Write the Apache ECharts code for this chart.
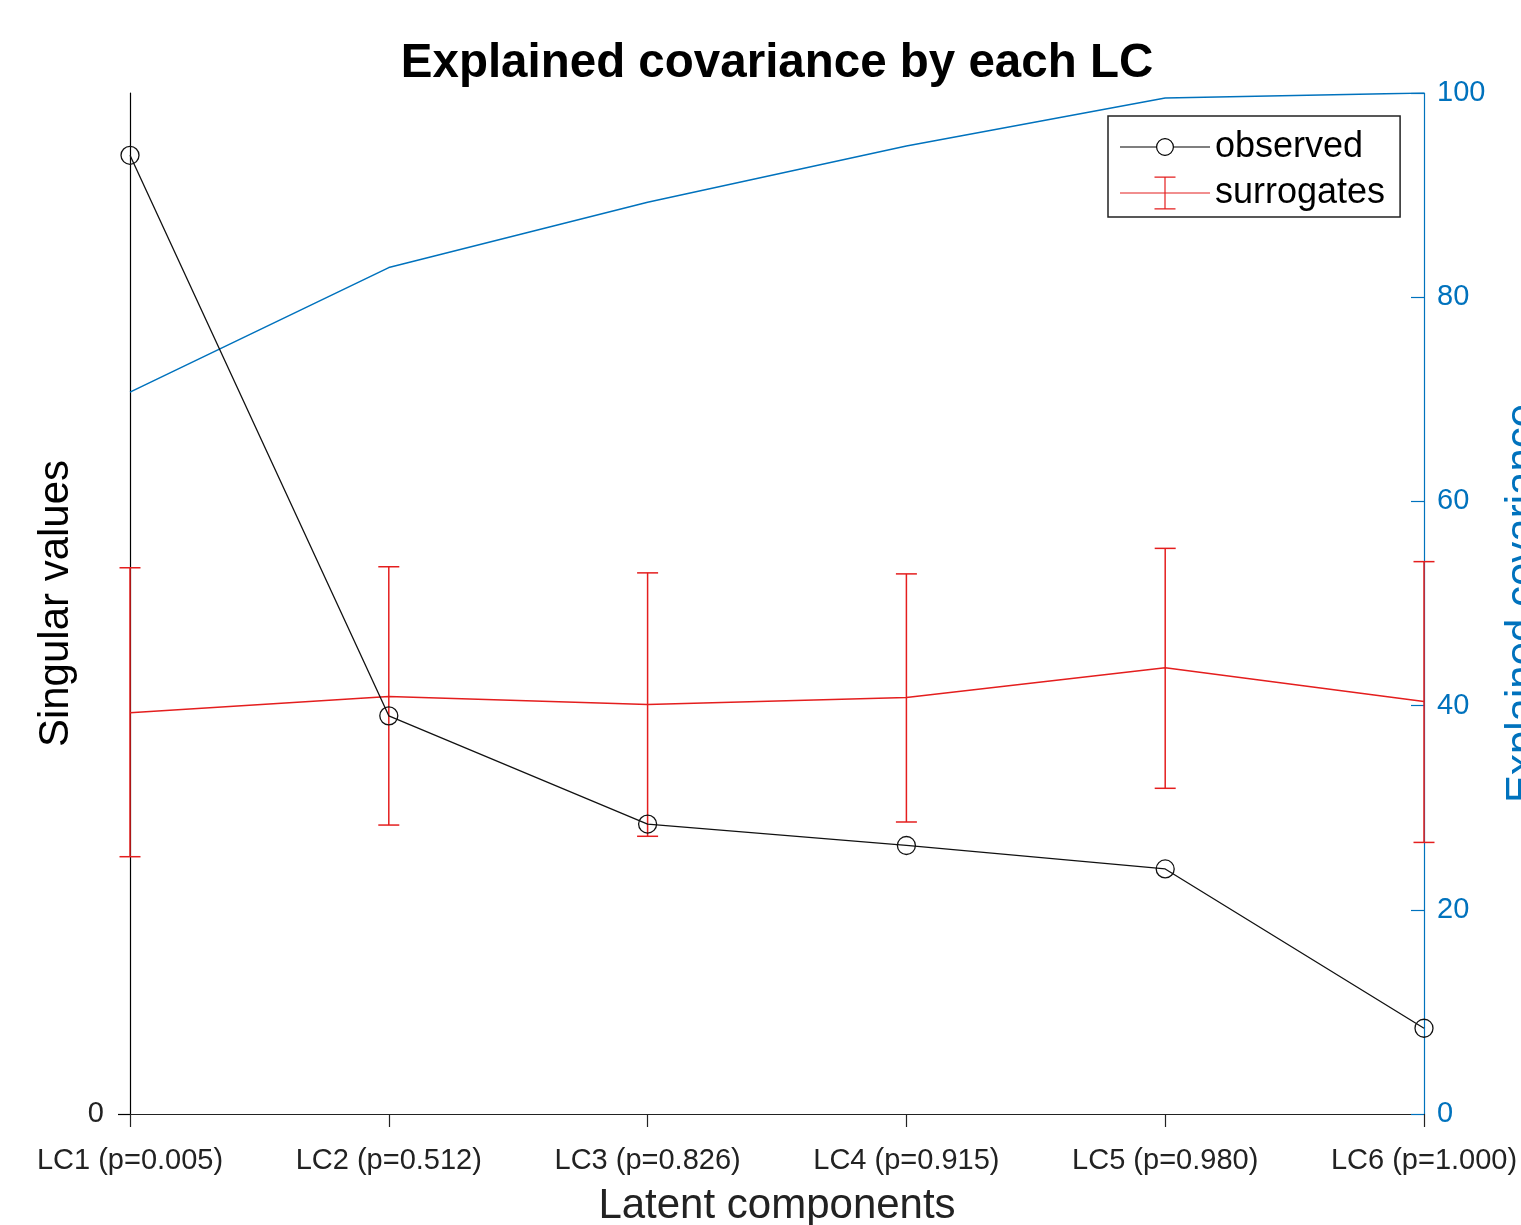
<!DOCTYPE html>
<html>
<head>
<meta charset="utf-8">
<script src="https://cdn.jsdelivr.net/npm/echarts@6/dist/echarts.min.js"></script>
<style>
html,body{margin:0;padding:0;background:#fff;overflow:hidden;}
#chart{width:1521px;height:1225px;}
</style>
</head>
<body>
<div id="chart"></div>
<script>
// ---- data ----
const categories = ['LC1 (p=0.005)', 'LC2 (p=0.512)', 'LC3 (p=0.826)', 'LC4 (p=0.915)', 'LC5 (p=0.980)', 'LC6 (p=1.000)'];
const observed = [93.9, 39.0, 28.4, 26.3, 24.0, 8.4];
const surrogateMean = [39.3, 40.9, 40.1, 40.8, 43.7, 40.4];
const surrogateLow = [25.2, 28.3, 27.2, 28.6, 31.9, 26.6];
const surrogateHigh = [53.5, 53.6, 53.0, 52.9, 55.4, 54.1];
const explainedCum = [70.7, 82.9, 89.3, 94.8, 99.5, 100];
const rightTicks = [0, 20, 40, 60, 80, 100];
const leftTicks = [0];

const FONT = '"Liberation Sans", Arial, Helvetica, sans-serif';
const BLUE = '#0072BD';
const RED = '#e41e1e';
const BLACK = '#000000';

const errData = categories.map((c, i) => [i, surrogateLow[i], surrogateHigh[i]]);

const iconObserved = 'path://M0,0 L0.1,0 L0,0.1 Z M90,33 L89.9,33 L90,32.9 Z ' +
  'M0,15.9 L36.5,15.9 L36.5,17.1 L0,17.1 Z M53.5,15.9 L90,15.9 L90,17.1 L53.5,17.1 Z ' +
  'M54,16.5 A9,9 0 1,1 36,16.5 A9,9 0 1,1 54,16.5 Z ' +
  'M52.8,16.5 A7.8,7.8 0 1,0 37.2,16.5 A7.8,7.8 0 1,0 52.8,16.5 Z';
const iconSurrogates = 'path://M0,15.9 L90,15.9 L90,17.1 L0,17.1 Z ' +
  'M44.4,0 L45.6,0 L45.6,33 L44.4,33 Z ' +
  'M34.5,0 L55.5,0 L55.5,1.2 L34.5,1.2 Z ' +
  'M34.5,31.8 L55.5,31.8 L55.5,33 L34.5,33 Z';

const chart = echarts.init(document.getElementById('chart'), null, {renderer: 'canvas'});

const option = {
  animation: false,
  backgroundColor: '#ffffff',
  textStyle: {fontFamily: FONT},
  title: {
    text: 'Explained covariance by each LC',
    left: 777,
    top: 40,
    padding: 0,
    textAlign: 'center',
    textStyle: {fontFamily: FONT, fontSize: 47.5, fontWeight: 'bold', color: BLACK, lineHeight: 47}
  },
  legend: {
    orient: 'vertical',
    left: 1108,
    top: 116,
    padding: [11, 15, 4, 12],
    itemGap: 6,
    itemWidth: 90,
    itemHeight: 33,
    selectedMode: false,
    borderColor: '#222',
    borderWidth: 1.5,
    backgroundColor: '#fff',
    textStyle: {fontFamily: FONT, fontSize: 36, lineHeight: 40, color: BLACK},
    data: [
      {name: 'observed', icon: iconObserved, itemStyle: {color: BLACK, borderWidth: 0}},
      {name: 'surrogates', icon: iconSurrogates, itemStyle: {color: RED, borderWidth: 0}}
    ]
  },
  grid: {left: 130, right: 97, top: 93, bottom: 111, containLabel: false, outerBoundsMode: 'none'},
  xAxis: {
    type: 'category',
    data: categories,
    boundaryGap: false,
    name: 'Latent components',
    nameLocation: 'middle',
    nameGap: 71,
    nameTextStyle: {fontFamily: FONT, fontSize: 42, color: '#222', lineHeight: 42},
    axisLine: {show: true, lineStyle: {color: '#222', width: 1.2}},
    axisTick: {show: true, inside: false, length: 13, interval: 0, lineStyle: {color: '#222', width: 1.2}},
    axisLabel: {interval: 0, margin: 32, fontFamily: FONT, fontSize: 29, color: '#222', lineHeight: 29},
    splitLine: {show: false}
  },
  yAxis: [
    {
      type: 'value',
      position: 'left',
      min: 0,
      max: 100,
      name: 'Singular values',
      nameLocation: 'middle',
      nameRotate: 90,
      nameGap: 53,
      nameTextStyle: {fontFamily: FONT, fontSize: 42, color: BLACK, lineHeight: 42},
      axisLine: {show: true, lineStyle: {color: BLACK, width: 1.2}},
      axisTick: {show: true, inside: false, length: 12, customValues: leftTicks, lineStyle: {color: BLACK, width: 1.2}},
      axisLabel: {show: true, customValues: leftTicks, margin: 26, fontFamily: FONT, fontSize: 29, color: '#222'},
      splitLine: {show: false}
    },
    {
      type: 'value',
      position: 'right',
      min: 0,
      max: 100,
      interval: 20,
      name: 'Explained covariance',
      nameLocation: 'middle',
      nameRotate: 90,
      nameGap: 78,
      nameTextStyle: {fontFamily: FONT, fontSize: 42, color: BLUE, lineHeight: 42},
      axisLine: {show: true, lineStyle: {color: BLUE, width: 1.2}},
      axisTick: {show: true, inside: true, length: 13, customValues: rightTicks, lineStyle: {color: BLUE, width: 1.2}},
      axisLabel: {margin: 13, customValues: rightTicks, fontFamily: FONT, fontSize: 29, color: BLUE},
      splitLine: {show: false}
    }
  ],
  series: [
    {
      name: 'explained',
      type: 'line',
      yAxisIndex: 1,
      data: explainedCum,
      symbol: 'none',
      lineStyle: {color: BLUE, width: 1.5},
      itemStyle: {color: BLUE},
      z: 2
    },
    {
      name: 'surrogates',
      type: 'line',
      yAxisIndex: 0,
      data: surrogateMean,
      symbol: 'none',
      lineStyle: {color: RED, width: 1.5},
      itemStyle: {color: RED},
      z: 3
    },
    {
      name: 'surrogates',
      type: 'custom',
      yAxisIndex: 0,
      data: errData,
      encode: {x: 0, y: [1, 2]},
      clip: false,
      itemStyle: {color: RED},
      z: 3,
      renderItem: function (params, api) {
        const idx = api.value(0);
        const lo = api.coord([idx, api.value(1)]);
        const hi = api.coord([idx, api.value(2)]);
        const hw = 10.5;
        const style = {stroke: RED, lineWidth: 1.5, fill: null};
        return {
          type: 'group',
          children: [
            {type: 'line', shape: {x1: lo[0], y1: lo[1], x2: hi[0], y2: hi[1]}, style: style},
            {type: 'line', shape: {x1: lo[0] - hw, y1: lo[1], x2: lo[0] + hw, y2: lo[1]}, style: style},
            {type: 'line', shape: {x1: hi[0] - hw, y1: hi[1], x2: hi[0] + hw, y2: hi[1]}, style: style}
          ]
        };
      }
    },
    {
      name: 'observed',
      type: 'line',
      yAxisIndex: 0,
      data: observed,
      symbol: 'circle',
      symbolSize: 18,
      showAllSymbol: true,
      clip: false,
      lineStyle: {color: '#111', width: 1.3},
      itemStyle: {color: 'rgba(0,0,0,0)', borderColor: '#111', borderWidth: 1.3},
      z: 4
    }
  ]
};

chart.setOption(option);
</script>
</body>
</html>
